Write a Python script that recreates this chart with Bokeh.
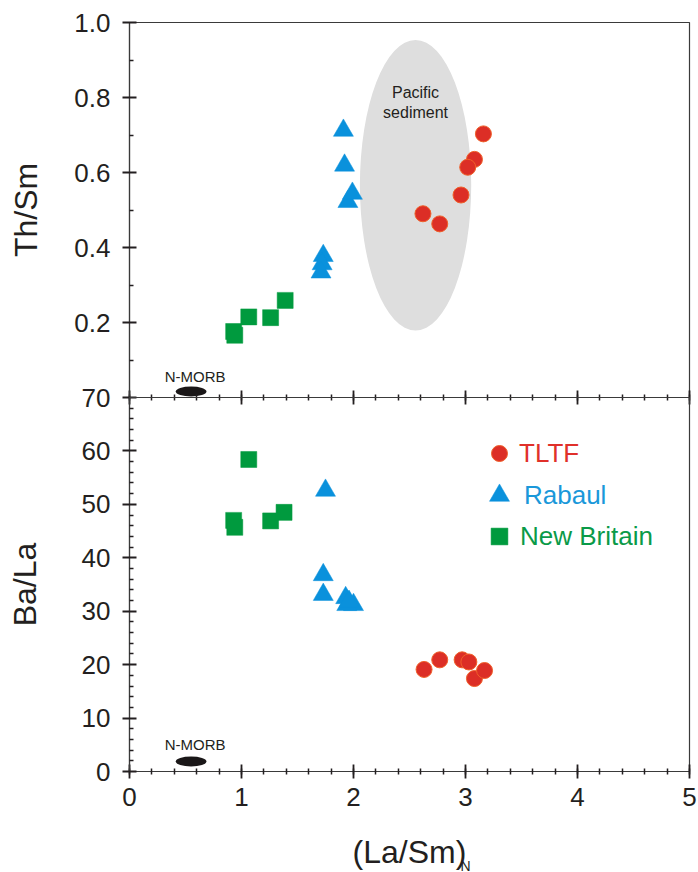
from bokeh.plotting import figure
from bokeh.models import (Range1d, FixedTicker, SingleIntervalTicker, LinearAxis,
                          Legend, LegendItem, Title, NumeralTickFormatter)
from bokeh.layouts import column
from bokeh.embed import file_html
from bokeh.resources import INLINE
from bokeh.core.properties import value

# ---------------- data ----------------
# Upper panel: Th/Sm vs (La/Sm)N
tltf_lasm_top = [3.16, 3.08, 3.02, 2.96, 2.62, 2.77]
tltf_thsm = [0.703, 0.635, 0.614, 0.540, 0.490, 0.463]
rabaul_lasm_top = [1.91, 1.92, 1.95, 1.99, 1.73, 1.72, 1.71]
rabaul_thsm = [0.712, 0.619, 0.522, 0.544, 0.378, 0.356, 0.334]
newbritain_lasm_top = [0.93, 0.94, 1.065, 1.26, 1.39]
newbritain_thsm = [0.176, 0.166, 0.215, 0.213, 0.259]

# Lower panel: Ba/La vs (La/Sm)N
tltf_lasm_bot = [2.63, 2.77, 2.97, 3.03, 3.08, 3.17]
tltf_bala = [19.1, 20.9, 20.9, 20.5, 17.4, 18.9]
rabaul_lasm_bot = [1.75, 1.73, 1.73, 1.93, 2.00, 1.94, 1.96]
rabaul_bala = [52.6, 36.8, 33.1, 32.5, 31.2, 31.2, 31.8]
newbritain_lasm_bot = [1.065, 0.93, 0.94, 1.26, 1.38]
newbritain_bala = [58.4, 47.0, 45.7, 46.9, 48.5]

# Reference fields
sediment_lasm, sediment_thsm = [2.554], [0.566]
sediment_w, sediment_h = [0.994], [0.775]
sediment_label_thsm = [0.787]
nmorb_lasm = [0.55]
nmorb_thsm, nmorb_thsm_h = [0.016], [0.027]
nmorb_bala, nmorb_bala_h = [1.87], [1.87]
nmorb_w = [0.274]

# Ticks
thsm_ticks = [0.0, 0.2, 0.4, 0.6, 0.8, 1.0]
thsm_minor = [0.1, 0.3, 0.5, 0.7, 0.9]
bala_ticks = [0, 10, 20, 30, 40, 50, 60]          # 70 is shared with the upper panel
bala_minor = [v for v in range(2, 70, 2) if v % 10]

# ---------------- style ----------------
FONT = "Liberation Sans"
INK = "#231F20"
AXC = "#3A3A3A"
RED, RED_EDGE = "#DC2E26", "#F0602A"
BLUE = "#0A91DC"
GREEN = "#009A3E"
W = 698
OVERLAP = 15


def style_axis(ax, tin=7, tout=7, min_in=4, min_out=0, labels=True):
    ax.axis_line_color = AXC
    ax.axis_line_width = 1.2
    ax.major_tick_in = tin
    ax.major_tick_out = tout
    ax.minor_tick_in = min_in
    ax.minor_tick_out = min_out
    ax.major_tick_line_color = INK
    ax.major_tick_line_width = 1.8
    ax.minor_tick_line_color = INK
    ax.minor_tick_line_width = 1.5
    ax.major_label_text_font = FONT
    if labels:
        ax.major_label_text_font_size = "26px"
        ax.major_label_text_color = INK
    else:
        ax.major_label_text_font_size = "0px"
        ax.major_label_text_color = None
        ax.major_label_standoff = 0
    ax.axis_label_text_font = FONT
    ax.axis_label_text_font_size = "32px"
    ax.axis_label_text_font_style = "normal"
    ax.axis_label_text_color = INK


xr = Range1d(0, 5)

# ---------------- top panel ----------------
p1 = figure(width=W, height=397 + OVERLAP, x_range=xr, y_range=Range1d(0, 1),
            output_backend="svg", toolbar_location=None,
            x_axis_location=None, y_axis_location=None,
            min_border_left=129, min_border_right=9, min_border_top=22,
            min_border_bottom=OVERLAP)
p1.grid.visible = False
p1.outline_line_color = AXC
p1.outline_line_width = 1.2

ya1 = LinearAxis(ticker=FixedTicker(ticks=thsm_ticks, minor_ticks=thsm_minor),
                 formatter=NumeralTickFormatter(format="0.0"), axis_label="Th/Sm")
style_axis(ya1)
ya1.major_label_standoff = 12
ya1.axis_label_standoff = 27
# the corner label sits on the shared boundary (Th/Sm 0 = Ba/La 70)
ya1.major_label_overrides = {0: "70"}
p1.add_layout(ya1, "left")

# shared middle axis: ticks cross the boundary between the panels
xa1 = LinearAxis(ticker=SingleIntervalTicker(interval=1, num_minor_ticks=5))
style_axis(xa1, tin=7, tout=7, min_in=3, min_out=3, labels=False)
p1.add_layout(xa1, "below")

p1.ellipse(x=sediment_lasm, y=sediment_thsm, width=sediment_w, height=sediment_h,
           fill_color="#DEDEDE", line_color=None)
p1.text(x=sediment_lasm, y=sediment_label_thsm, text=["Pacific\nsediment"],
        text_font=value(FONT), text_font_size="16px", text_color=INK,
        text_align="center", text_baseline="middle", text_line_height=1.15)
p1.ellipse(x=nmorb_lasm, y=nmorb_thsm, width=nmorb_w, height=nmorb_thsm_h,
           fill_color="#1A1718", line_color=None)
p1.text(x=nmorb_lasm, y=nmorb_thsm, text=["N-MORB"], x_offset=4, y_offset=-15,
        text_font=value(FONT), text_font_size="15px", text_color=INK,
        text_align="center", text_baseline="middle")

p1.scatter(newbritain_lasm_top, newbritain_thsm, marker="square", size=16,
           fill_color=GREEN, line_color=GREEN, line_width=0.5)
p1.scatter(rabaul_lasm_top, rabaul_thsm, marker="triangle", size=20,
           fill_color=BLUE, line_color=BLUE, line_width=0.5)
p1.scatter(tltf_lasm_top, tltf_thsm, marker="circle", size=16,
           fill_color=RED, line_color=RED_EDGE, line_width=1)

# ---------------- bottom panel ----------------
p2 = figure(width=W, height=475, x_range=xr, y_range=Range1d(0, 70),
            output_backend="svg", toolbar_location=None,
            x_axis_location=None, y_axis_location=None,
            min_border_left=129, min_border_right=9, min_border_top=0,
            min_border_bottom=101,
            background_fill_color=None, border_fill_color=None,
            styles={"margin-top": f"-{OVERLAP}px"})
p2.grid.visible = False
p2.outline_line_color = AXC
p2.outline_line_width = 1.2

ya2 = LinearAxis(ticker=FixedTicker(ticks=bala_ticks, minor_ticks=bala_minor),
                 axis_label="Ba/La")
style_axis(ya2)
ya2.major_label_standoff = 12
ya2.axis_label_standoff = 36
p2.add_layout(ya2, "left")

xa2 = LinearAxis(ticker=SingleIntervalTicker(interval=1, num_minor_ticks=5),
                 axis_label="(La/Sm)")
style_axis(xa2, tin=7, tout=7, min_in=3, min_out=3)
xa2.major_label_standoff = 9
xa2.axis_label_standoff = 25
p2.add_layout(xa2, "below")

# subscript N of the x-axis title
p2.add_layout(Title(text="N", align="left", offset=331, standoff=-30,
                    vertical_align="top", text_font=FONT, text_font_size="14px",
                    text_font_style="normal", text_color=INK), "below")

p2.ellipse(x=nmorb_lasm, y=nmorb_bala, width=nmorb_w, height=nmorb_bala_h,
           fill_color="#1A1718", line_color=None)
p2.text(x=nmorb_lasm, y=nmorb_bala, text=["N-MORB"], x_offset=4, y_offset=-17,
        text_font=value(FONT), text_font_size="15px", text_color=INK,
        text_align="center", text_baseline="middle")

r_nb = p2.scatter(newbritain_lasm_bot, newbritain_bala, marker="square", size=16,
                  fill_color=GREEN, line_color=GREEN, line_width=0.5)
r_rb = p2.scatter(rabaul_lasm_bot, rabaul_bala, marker="triangle", size=20,
                  fill_color=BLUE, line_color=BLUE, line_width=0.5)
r_tl = p2.scatter(tltf_lasm_bot, tltf_bala, marker="circle", size=16,
                  fill_color=RED, line_color=RED_EDGE, line_width=1)

legend_specs = [
    ("TLTF", r_tl, "#E0302A", 40, (350, 298)),
    ("Rabaul", r_rb, "#1A98DA", 50, (345, 251)),
    ("New Britain", r_nb, "#0A9A48", 42, (349, 214)),
]
for lab, rend, col, g, loc in legend_specs:
    lg = Legend(items=[LegendItem(label=lab, renderers=[rend])], location=loc,
                glyph_width=g, glyph_height=g, label_standoff=0, padding=0,
                margin=0, spacing=0, border_line_color=None,
                background_fill_alpha=0, label_text_font=FONT,
                label_text_font_size="26px", label_text_color=col)
    p2.add_layout(lg)

layout = column(p1, p2, spacing=0)
open("out.html", "w").write(file_html(layout, INLINE))
